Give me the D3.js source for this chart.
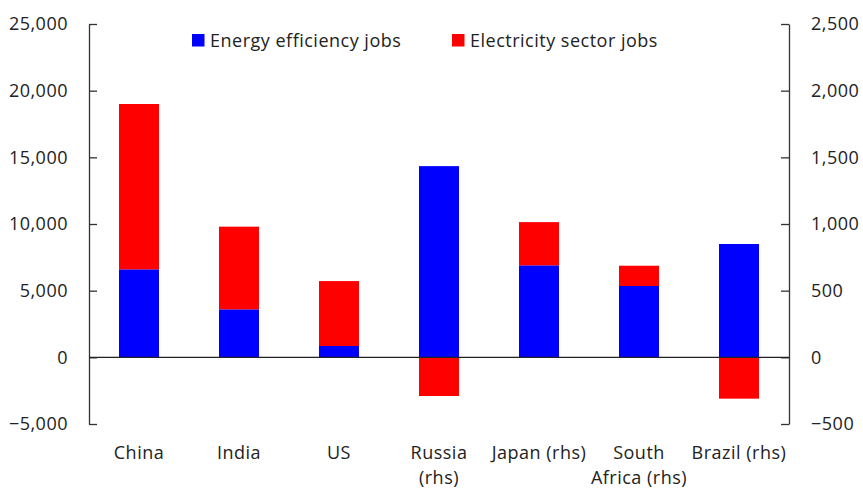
<!DOCTYPE html>
<html>
<head>
<meta charset="utf-8">
<script src="https://cdn.jsdelivr.net/npm/d3@7"></script>
<style>
  body { margin: 0; background: #fff; }
  text { font-family: "Open Sans", "Noto Sans", sans-serif; fill: #222; letter-spacing: 0.5px; }
</style>
</head>
<body>
<svg id="chart"></svg>
<script>
// Constant values
const width = 863;
const height = 490;
const margin = { top: 24, right: 74, bottom: 66, left: 89 };

// Data (rhs categories are in right-axis units)
const categories = ["China", "India", "US", "Russia (rhs)", "Japan (rhs)", "South Africa (rhs)", "Brazil (rhs)"];
const labelLines = [["China"], ["India"], ["US"], ["Russia", "(rhs)"], ["Japan (rhs)"], ["South", "Africa (rhs)"], ["Brazil (rhs)"]];
const onRight = [false, false, false, true, true, true, true];
const efficiencyJobs = [6600, 3600, 850, 1434, 690, 535, 850];
const electricityJobs = [12400, 6200, 4870, -290, 324, 152, -310];
const leftTicks = [-5000, 0, 5000, 10000, 15000, 20000, 25000];
const rightTicks = [-500, 0, 500, 1000, 1500, 2000, 2500];
const seriesNames = ["Energy efficiency jobs", "Electricity sector jobs"];
const seriesColors = ["#0000ff", "#ff0000"];

const svg = d3.select("#chart")
    .attr("width", width)
    .attr("height", height);

// Scales
const xScale = d3.scaleBand()
    .domain(categories)
    .range([margin.left, width - margin.right])
    .paddingInner(0.6)
    .paddingOuter(0.3);

const yLeft = d3.scaleLinear()
    .domain([-5000, 25000])
    .range([height - margin.bottom, margin.top]);

const yRight = d3.scaleLinear()
    .domain([-500, 2500])
    .range([height - margin.bottom, margin.top]);

const fmt = d3.format(",");

// Axes
const leftAxis = svg.append("g")
    .attr("transform", `translate(${margin.left},0)`)
    .call(d3.axisLeft(yLeft).tickValues(leftTicks).tickFormat(fmt).tickSizeInner(-8).tickSizeOuter(0).tickPadding(21));

const rightAxis = svg.append("g")
    .attr("transform", `translate(${width - margin.right},0)`)
    .call(d3.axisRight(yRight).tickValues(rightTicks).tickFormat(fmt).tickSizeInner(-8).tickSizeOuter(0).tickPadding(22));

[leftAxis, rightAxis].forEach(g => {
    g.select(".domain").attr("stroke", "#333").attr("stroke-width", 1.3);
    g.selectAll(".tick line").attr("stroke", "#333").attr("stroke-width", 1.3);
    g.selectAll(".tick text").style("font-size", "18px").attr("fill", "#222");
});

// Stacked bars
const rows = categories.map((c, i) => ({
    cat: c,
    y: onRight[i] ? yRight : yLeft,
    vals: [efficiencyJobs[i], electricityJobs[i]]
}));

rows.forEach(r => {
    let pos = 0, neg = 0;
    r.vals.forEach((v, k) => {
        let y0, y1;
        if (v >= 0) { y0 = pos; y1 = pos + v; pos = y1; }
        else { y0 = neg; y1 = neg + v; neg = y1; }
        svg.append("rect")
            .attr("x", xScale(r.cat))
            .attr("width", xScale.bandwidth())
            .attr("y", r.y(Math.max(y0, y1)))
            .attr("height", Math.abs(r.y(y0) - r.y(y1)))
            .attr("fill", seriesColors[k]);
    });
});

// Zero line
svg.append("line")
    .attr("x1", margin.left)
    .attr("x2", width - margin.right)
    .attr("y1", yLeft(0))
    .attr("y2", yLeft(0))
    .attr("stroke", "#222")
    .attr("stroke-width", 1.3);

// Category labels
categories.forEach((c, i) => {
    const t = svg.append("text")
        .attr("x", xScale(c) + xScale.bandwidth() / 2)
        .attr("y", 459)
        .attr("text-anchor", "middle")
        .style("font-size", "18px");
    labelLines[i].forEach((line, j) => {
        t.append("tspan")
            .attr("x", xScale(c) + xScale.bandwidth() / 2)
            .attr("dy", j === 0 ? 0 : 25)
            .text(line);
    });
});

// Legend
const legendX = [192, 452];
seriesNames.forEach((name, k) => {
    svg.append("rect")
        .attr("x", legendX[k])
        .attr("y", 34)
        .attr("width", 12.5)
        .attr("height", 12.5)
        .attr("fill", seriesColors[k]);
    svg.append("text")
        .attr("x", legendX[k] + 18)
        .attr("y", 47)
        .style("font-size", "18px")
        .text(name);
});
</script>
</body>
</html>
